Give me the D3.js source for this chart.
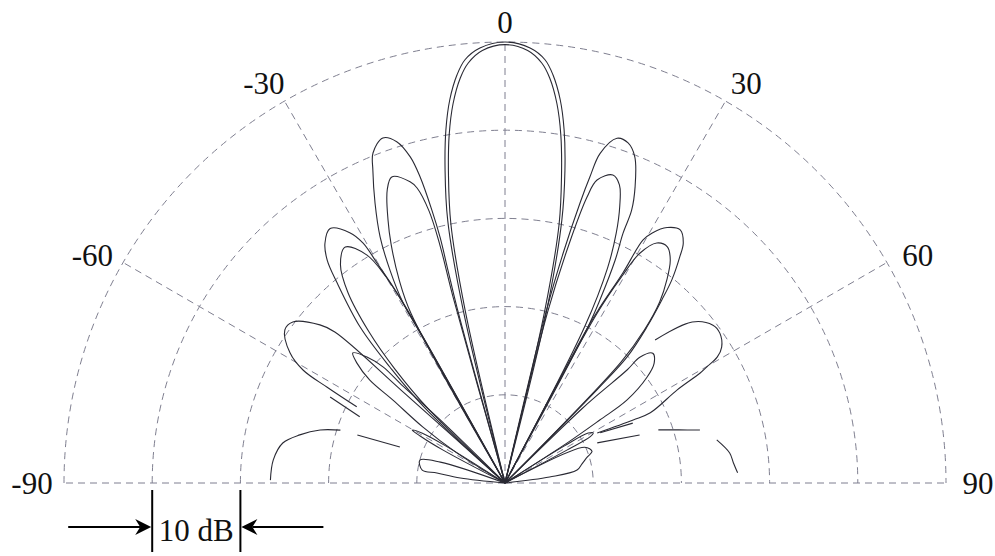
<!DOCTYPE html>
<html>
<head>
<meta charset="UTF-8">
<title>beam pattern</title>
<script src="https://d3js.org/d3.v7.min.js"></script>
<style>
body{margin:0;background:#fff;}
.grid{fill:none;stroke:#7f7f90;stroke-width:1;stroke-dasharray:7,5;}
.lobe{fill:none;stroke:#2a2a34;stroke-width:1.1;}
.lab{font-family:"Liberation Serif","Times New Roman",serif;font-size:31px;fill:#111;}
</style>
</head>
<body>
<div id="chart"></div>
<script>
var width = 995, height = 556;
var cx = 505, cy = 483, R = 441;

// axes
var angleTicks = [-90, -60, -30, 0, 30, 60, 90];
var ringLevels = [0, -10, -20, -30, -40];
var dbMin = -50, dbMax = 0;
var scaleMark = [-10, -20];   // "10 dB" bracket between these rings

// lobes: [angle deg, level dB]
var beam0 = [[-13.6,-50],[-13.6,-30],[-12.3,-19.5],[-10.85,-13.9],[-9.5,-9.4],[-8.2,-6.1],[-6.7,-3.4],[-5.4,-1.8],[-3.3,-0.6],[0,0],
  [3.3,-0.6],[5.4,-1.8],[6.7,-3.4],[8.2,-6.1],[9.5,-9.4],[10.85,-13.9],[12.2,-19.5],[13.6,-30],[13.6,-50]];
var beam0b = [[-13,-50],[-13,-30],[-11.8,-20],[-10.4,-14.5],[-9.1,-10],[-7.8,-6.6],[-6.3,-3.8],[-5,-2.2],[-3,-0.9],[0,-0.3],
  [3,-0.9],[5,-2.2],[6.3,-3.8],[7.8,-6.6],[9.1,-10],[10.4,-14.5],[11.8,-20],[13,-30],[13,-50]];

var beamL1 = [[-29.5,-50],[-29.5,-30],[-29.5,-26.5],[-28.4,-22.6],[-26.9,-18.7],[-24.9,-15],[-22.9,-11.5],[-21.8,-9.7],[-19.5,-8.5],
  [-17.6,-9.4],[-16.2,-11.5],[-15.5,-14],[-15,-18],[-14.8,-21.2],[-15,-25],[-15.3,-29.3],[-15.3,-50]];
var beamL1b = [[-29,-50],[-29,-28],[-27.5,-24],[-25.5,-20],[-24,-17.4],[-21.9,-14.2],[-20.3,-13],[-17.5,-14.2],[-16.6,-15.1],
  [-15.6,-18],[-15.3,-22],[-15.6,-28],[-15.6,-50]];
var beamR1 = [[13.5,-50],[13.5,-30],[14.2,-23.1],[15,-17.1],[15.5,-14],[16.1,-11.1],[18,-8.9],[19.9,-9],[21.7,-10.2],[23.7,-13.3],
  [24.9,-15.9],[25.3,-18.7],[26.3,-21.8],[27.4,-26.6],[28,-30],[28,-50]];
var beamR1b = [[14,-50],[14,-30],[15,-22],[16,-16.3],[16.9,-14.1],[19.3,-13],[21,-13.8],[22.5,-16],[24,-19],[25.5,-23],[27,-30],[27,-50]];

var beamL2 = [[-46.5,-50],[-46.8,-37.3],[-44.8,-31.5],[-42.9,-25.9],[-40,-20.4],[-38.6,-17.7],[-36.9,-16],[-34.5,-15],
  [-31.8,-16.6],[-30.6,-18.4],[-30.2,-21.1],[-29.6,-25.2],[-29.3,-30],[-29.3,-50]];
var beamL2b = [[-46,-50],[-46,-38],[-44,-32],[-42,-27],[-39.5,-22],[-37,-19],[-34.1,-17.7],[-31.2,-19.8],[-30,-23],[-29.5,-28],[-29.5,-50]];
var beamR2 = [[28,-50],[28,-30],[28.4,-27.3],[29.3,-22.7],[29.6,-18.3],[30.5,-17.1],[32.4,-15.7],[34.7,-15.1],[36.6,-16.1],
  [37.7,-17.6],[39.4,-20.2],[40.6,-22.7],[42.3,-26.1],[44.1,-30.1],[44.6,-35],[44.6,-50]];
var beamR2b = [[28.5,-50],[28.5,-28],[29.5,-23],[30.4,-19.8],[32.3,-17.8],[34.5,-17.5],[36.5,-18.5],[38.5,-20.5],[40.5,-23],
  [42.3,-26.5],[43.8,-31],[44,-50]];

var beamL3 = [[-58,-50],[-58,-43.6],[-55.7,-38.7],[-53.5,-34.2],[-52.7,-30.7],[-51,-28.4],[-49.5,-27.3],[-47.6,-28.8],
  [-46.4,-30.9],[-46.5,-34.1],[-45.8,-39.3],[-45,-50]];
var beamR3 = [[45,-50],[46,-38],[46.5,-35.2],[47.2,-31.1],[47,-29.1],[48.7,-27.7],[51.2,-28.3],[53.3,-29.9],[55.8,-33.3],
  [56.4,-37.1],[57.2,-41.6],[58,-50]];

var lobeL4 = [[-48,-50],[-48.2,-35],[-48.4,-24.2],[-49.5,-22.4],[-52.8,-19.8],[-55.2,-19.6],[-58.8,-21.5],[-60.8,-23.8],
  [-61.7,-27.1],[-62.8,-31.1]];
var lobeR4 = [[46.4,-26.5],[49.3,-22],[52.8,-20.4],[55.1,-20.3],[57.9,-21],[59.3,-22],[60.1,-23.6],[60.6,-24.6],
  [61.6,-27.8],[64.2,-31.7],[63.8,-33.8],[61.5,-38.1]];

var sideL1 = [[-63.8,-27.9],[-65.5,-31.9]];
var sideL2 = [[-72,-32.4],[-71.1,-37.4]];
var sideR1 = [[66.5,-38.6],[70.4,-33.8]];
var sideR2 = [[62.2,-37.8],[64.9,-34]];

var lowL = [[-89.3,-23.4],[-84.3,-23.6],[-79.8,-24.4],[-76.8,-26.1],[-74,-28.2],[-72.2,-30.4]];
var lowR1 = [[70.9,-31.6],[73,-29.4],[74.8,-27.1]];
var lowR2 = [[78.5,-25.5],[82.4,-24.3],[85,-24],[87.5,-23.6]];

var nearL = [[-84,-50],[-83.7,-44.9],[-81.6,-42.2],[-81.1,-40.5],[-74.9,-40],[-72.1,-42.3],[-70,-50]];
var nearR = [[62,-50],[65.8,-40.1],[70,-39.5],[72.4,-40.2],[76,-41],[79.8,-41.7],[82.4,-44.9],[84,-50]];
var bumpL = [[-63,-50],[-62,-42],[-61,-39],[-60.3,-37.9],[-59,-39],[-58,-42],[-57,-50]];
var bumpR = [[57,-50],[58,-42],[59,-39],[60.4,-38.5],[61.5,-39],[62,-42],[63,-50]];

var curves = [beam0, beam0b, beamL1, beamL1b, beamR1, beamR1b, beamL2, beamL2b, beamR2, beamR2b,
  beamL3, beamR3, lobeL4, lobeR4, sideL1, sideL2, sideR1, sideR2, lowL, lowR1, lowR2, nearL, nearR, bumpL, bumpR];

// scales
var rScale = d3.scaleLinear().domain([dbMin, dbMax]).range([0, R]).clamp(true);
var aScale = d3.scaleLinear().domain([-180, 180]).range([-Math.PI, Math.PI]);

var svg = d3.select("#chart").append("svg").attr("width", width).attr("height", height);
var g = svg.append("g").attr("transform", "translate(" + cx + "," + cy + ")");

// rings
ringLevels.forEach(function(lv){
  var r = rScale(lv), p = d3.path();
  p.moveTo(-r, 0);
  p.arc(0, 0, r, Math.PI, 2 * Math.PI);
  g.append("path").attr("class", "grid").attr("d", p.toString());
});

// spokes
g.selectAll("line.spoke").data(angleTicks).enter().append("line")
  .attr("class", "grid")
  .attr("x1", 0).attr("y1", 0)
  .attr("x2", function(d){ return R * Math.sin(aScale(d)); })
  .attr("y2", function(d){ return -R * Math.cos(aScale(d)); });

// lobes
var line = d3.lineRadial()
  .angle(function(d){ return aScale(d[0]); })
  .radius(function(d){ return rScale(d[1]); })
  .curve(d3.curveCatmullRom.alpha(0.5));

g.selectAll("path.lobe").data(curves).enter().append("path")
  .attr("class", "lobe")
  .attr("d", line);

// angle labels, pushed out a little more toward the sides
function labPos(d){
  var a = aScale(d);
  var a2 = a + (d === 0 ? 0 : Math.sign(d) * 0.022 * Math.abs(Math.sin(2 * a)));
  var r = R + 20 + 12 * Math.abs(Math.sin(a));
  return [r * Math.sin(a2), -r * Math.cos(a2)];
}
g.selectAll("text.ang").data(angleTicks).enter().append("text")
  .attr("class", "lab")
  .attr("text-anchor", "middle")
  .attr("dy", "0.35em")
  .attr("x", function(d){ return labPos(d)[0]; })
  .attr("y", function(d){ return labPos(d)[1]; })
  .text(function(d){ return d; });

// 10 dB bracket
var xa = -rScale(scaleMark[0]), xb = -rScale(scaleMark[1]);
var yLine = 44;
[xa, xb].forEach(function(x){
  g.append("line").attr("x1", x).attr("x2", x).attr("y1", 7).attr("y2", 69)
    .attr("stroke", "#000").attr("stroke-width", 2);
});
g.append("line").attr("x1", xa - 84).attr("x2", xa - 12).attr("y1", yLine).attr("y2", yLine)
  .attr("stroke", "#000").attr("stroke-width", 2);
g.append("path").attr("d", "M" + (xa - 1) + "," + yLine + "L" + (xa - 17) + "," + (yLine - 8) + "L" + (xa - 12) + "," + yLine + "L" + (xa - 17) + "," + (yLine + 8) + "Z")
  .attr("fill", "#000");
g.append("line").attr("x1", xb + 83).attr("x2", xb + 12).attr("y1", yLine).attr("y2", yLine)
  .attr("stroke", "#000").attr("stroke-width", 2);
g.append("path").attr("d", "M" + (xb + 1) + "," + yLine + "L" + (xb + 17) + "," + (yLine - 8) + "L" + (xb + 12) + "," + yLine + "L" + (xb + 17) + "," + (yLine + 8) + "Z")
  .attr("fill", "#000");
g.append("text").attr("class", "lab")
  .attr("text-anchor", "middle")
  .attr("x", (xa + xb) / 2).attr("y", 58)
  .text("10 dB");
</script>
</body>
</html>
